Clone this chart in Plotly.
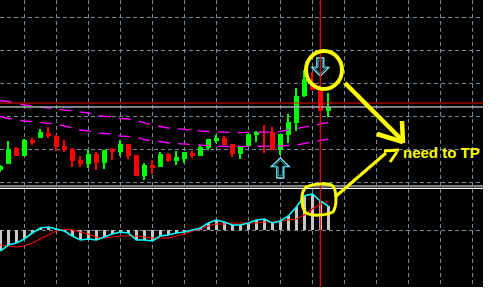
import plotly.graph_objects as go

# ---------------- data ----------------
bar_index = list(range(42))
opens = [1.3030, 1.3036, 1.3052, 1.3044, 1.3060, 1.3062, 1.3067, 1.3064, 1.3054, 1.3051,
         1.3040, 1.3036, 1.3046, 1.3037, 1.3051, 1.3048, 1.3056, 1.3045, 1.3024, 1.3035,
         1.3033, 1.3046, 1.3039, 1.3041, 1.3047, 1.3044, 1.3052, 1.3059, 1.3062, 1.3056,
         1.3046, 1.3054, 1.3065, 1.3068, 1.3068, 1.3050, 1.3065, 1.3077, 1.3104, 1.3117,
         1.3110, 1.3089]
highs = [1.3035, 1.3059, 1.3053, 1.3061, 1.3062, 1.3071, 1.3073, 1.3065, 1.3060, 1.3052,
         1.3044, 1.3050, 1.3048, 1.3050, 1.3052, 1.3060, 1.3056, 1.3045, 1.3037, 1.3040,
         1.3048, 1.3047, 1.3049, 1.3048, 1.3049, 1.3055, 1.3061, 1.3065, 1.3064, 1.3056,
         1.3054, 1.3066, 1.3069, 1.3075, 1.3073, 1.3066, 1.3086, 1.3112, 1.3130, 1.3128,
         1.3115, 1.3107]
lows = [1.3028, 1.3036, 1.3044, 1.3044, 1.3055, 1.3062, 1.3062, 1.3049, 1.3048, 1.3033,
        1.3033, 1.3032, 1.3030, 1.3031, 1.3040, 1.3044, 1.3041, 1.3024, 1.3020, 1.3026,
        1.3033, 1.3038, 1.3035, 1.3037, 1.3042, 1.3044, 1.3050, 1.3057, 1.3055, 1.3043,
        1.3041, 1.3054, 1.3058, 1.3047, 1.3050, 1.3045, 1.3057, 1.3069, 1.3103, 1.3110,
        1.3089, 1.3083]
closes = [1.3034, 1.3051, 1.3044, 1.3060, 1.3057, 1.3068, 1.3064, 1.3053, 1.3050, 1.3039,
          1.3036, 1.3046, 1.3037, 1.3050, 1.3048, 1.3056, 1.3044, 1.3024, 1.3035, 1.3032,
          1.3046, 1.3039, 1.3043, 1.3048, 1.3044, 1.3053, 1.3061, 1.3062, 1.3055, 1.3046,
          1.3054, 1.3066, 1.3068, 1.3067, 1.3050, 1.3066, 1.3078, 1.3104, 1.3121, 1.3110,
          1.3089, 1.3093]

ma_upper = [1.30995, 1.30985, 1.30965, 1.3095, 1.3094, 1.3093, 1.3092, 1.3091, 1.3090, 1.3089,
            1.3088, 1.3087, 1.30845, 1.3084, 1.3083, 1.30815, 1.3081, 1.30795, 1.3077, 1.3075,
            1.30735, 1.3072, 1.30715, 1.30705, 1.30695, 1.3069, 1.30685, 1.3068, 1.30675, 1.30675,
            1.30675, 1.30675, 1.30675, 1.3068, 1.3068, 1.30685, 1.3070, 1.30715, 1.3073, 1.3075,
            1.3076, 1.30775]
ma_lower = [1.30835, 1.30815, 1.30805, 1.3079, 1.30785, 1.30775, 1.30765, 1.3076, 1.3074, 1.3072,
            1.3070, 1.3069, 1.3067, 1.30665, 1.3066, 1.3064, 1.30635, 1.3063, 1.30605, 1.3059,
            1.30585, 1.3057, 1.30565, 1.3056, 1.3055, 1.30545, 1.3054, 1.3054, 1.30535, 1.30535,
            1.30535, 1.30535, 1.30535, 1.30537, 1.30537, 1.3054, 1.30545, 1.3055, 1.30565, 1.3058,
            1.3059, 1.3061]

macd_main = [-0.00021, -0.00015, -0.00013, -0.00009, -0.00003, 0.00002, 0.00003, 0.00001, -0.00001, -0.00006,
             -0.00010, -0.00009, -0.00010, -0.00007, -0.00004, -0.00002, -0.00003, -0.00010, -0.00010, -0.00011,
             -0.00006, -0.00005, -0.00003, -0.00002, 0.00000, 0.00002, 0.00007, 0.00010, 0.00008, 0.00005,
             0.00005, 0.00007, 0.00010, 0.00011, 0.00007, 0.00009, 0.00014, 0.00023, 0.00034, 0.00036,
             0.00029, 0.00024]
macd_signal = [-0.00015, -0.00016, -0.00017, -0.00016, -0.00013, -0.00009, -0.00005, -0.00001, 0.00001, 0.00000,
               -0.00002, -0.00004, -0.00007, -0.00008, -0.00007, -0.00006, -0.00006, -0.00006, -0.00007, -0.00008,
               -0.00008, -0.00008, -0.00006, -0.00004, -0.00001, 0.00001, 0.00004, 0.00006, 0.00006, 0.00007,
               0.00007, 0.00007, 0.00007, 0.00008, 0.00008, 0.00009, 0.00010, 0.00011, 0.00015, 0.00021,
               0.00026, 0.00029]

level_red = 1.3097
level_gray = 1.3093
current_bar = 40
signal_up_bar, signal_up_price = 35, 1.3032
signal_down_bar, signal_down_price = 40, 1.3133
grid_bars = [3, 7, 11, 15, 19, 23, 27, 31, 35, 39, 43, 47, 51, 55, 59]
grid_prices = [1.3018, 1.3051, 1.3084, 1.3117, 1.3150, 1.3183]
note_text = "need to TP"

# ---------------- figure ----------------
W, H = 483.0, 287.0
BAR_PX = 8.0        # pixels per bar
PRICE_PX = 0.0001   # price per pixel


def P(x, y):
    return x / W, 1 - y / H


def path(cmds):
    out = []
    for c in cmds:
        if isinstance(c, str):
            out.append(c)
        else:
            px, py = P(*c)
            out.append(f"{px:.5f},{py:.5f}")
    return " ".join(out)


def arrow_path(bar, price, half_w, half_h, shaft, head, direction):
    # outline of a block arrow around a data point; offsets in pixels
    s = -1 if direction == "up" else 1
    pts = [(0, s * half_h), (half_w, s * (half_h - head)), (shaft, s * (half_h - head)),
           (shaft, -s * half_h), (-shaft, -s * half_h), (-shaft, s * (half_h - head)),
           (-half_w, s * (half_h - head))]
    cmds = []
    for k, (dx, dy) in enumerate(pts):
        cmds.append(("M" if k == 0 else "L") + f"{bar + dx / BAR_PX:.4f},{price - dy * PRICE_PX:.6f}")
    return " ".join(cmds) + " Z"


UP, DN = "#00FF00", "#FF0000"
colors = [UP if c >= o else DN for o, c in zip(opens, closes)]
body_base = [min(o, c) for o, c in zip(opens, closes)]
body_h = [max(abs(c - o), 0.0001) for o, c in zip(opens, closes)]
wick_h = [h - l for h, l in zip(highs, lows)]

fig = go.Figure()
fig.add_trace(go.Bar(x=bar_index, y=wick_h, base=lows, width=0.14,
                     marker=dict(color=colors, line=dict(width=0)), xaxis="x", yaxis="y"))
fig.add_trace(go.Bar(x=bar_index, y=body_h, base=body_base, width=0.625,
                     marker=dict(color=colors, line=dict(width=0)), xaxis="x", yaxis="y"))
for ma in (ma_upper, ma_lower):
    fig.add_trace(go.Scatter(x=bar_index, y=ma, mode="lines",
                             line=dict(color="#FF00FF", width=1.3, dash="12px,8px"),
                             xaxis="x", yaxis="y"))

fig.add_trace(go.Bar(x=bar_index, y=macd_main, width=0.375,
                     marker=dict(color="#C8C8C8", line=dict(width=0)), xaxis="x2", yaxis="y2"))
fig.add_trace(go.Scatter(x=bar_index, y=macd_signal, mode="lines",
                         line=dict(color="#FF0000", width=1.2), xaxis="x2", yaxis="y2"))
fig.add_trace(go.Scatter(x=bar_index, y=macd_main, mode="lines",
                         line=dict(color="#00FFFF", width=1.6), xaxis="x2", yaxis="y2"))

GRID = dict(showgrid=True, gridcolor="#778899", gridwidth=1, griddash="4px,3px",
            showticklabels=False, zeroline=False, showline=False, ticks="")
xr = [-0.04, -0.04 + W / BAR_PX]
top_split = 1 - 185 / H
bot_split = 1 - 189 / H

fig.update_layout(
    width=495, height=296,
    margin=dict(l=0, r=12, t=0, b=9, pad=0),
    paper_bgcolor="white", plot_bgcolor="black",
    showlegend=False, barmode="overlay", bargap=0,
    xaxis=dict(domain=[0, 1], range=xr, tickvals=grid_bars, anchor="y", **GRID),
    xaxis2=dict(domain=[0, 1], range=xr, tickvals=grid_bars, anchor="y2", matches="x", **GRID),
    yaxis=dict(domain=[top_split, 1], range=[1.3015, 1.3200], tickvals=grid_prices, anchor="x", **GRID),
    yaxis2=dict(domain=[0, bot_split], range=[-0.00057, 0.00041], tickvals=[0], anchor="x2", **GRID),
)

shapes = [
    dict(type="rect", xref="paper", yref="paper", x0=0, x1=1, y0=0, y1=1,
         fillcolor="black", line=dict(width=0), layer="below"),
    dict(type="line", xref="paper", yref="y", x0=0, x1=1, y0=level_red, y1=level_red,
         line=dict(color="#FF0000", width=1)),
    dict(type="line", xref="paper", yref="y", x0=0, x1=1, y0=level_gray, y1=level_gray,
         line=dict(color="#A4ACB4", width=1.5)),
    dict(type="line", xref="paper", yref="paper", x0=0, x1=1, y0=P(0, 186)[1], y1=P(0, 186)[1],
         line=dict(color="white", width=1.2)),
    dict(type="line", xref="paper", yref="paper", x0=0, x1=1, y0=P(0, 188.3)[1], y1=P(0, 188.3)[1],
         line=dict(color="white", width=1.2)),
]

# signal arrows (outer light cyan outline, inner teal outline)
for (b, p, d, hw, hh) in [(signal_up_bar, signal_up_price, "up", 9, 10),
                          (signal_down_bar, signal_down_price, "down", 8.5, 9)]:
    shapes.append(dict(type="path", xref="x", yref="y",
                       path=arrow_path(b, p, hw, hh, 3.5, 8.5, d),
                       fillcolor="black", line=dict(color="#7FE8F0", width=1.3)))
    shapes.append(dict(type="path", xref="x", yref="y",
                       path=arrow_path(b, p, hw - 2.5, hh - 2.2, 2.0, 6.5, d),
                       line=dict(color="#2A9FB0", width=1)))

shapes.append(dict(type="line", xref="x", yref="paper", x0=current_bar, x1=current_bar, y0=0, y1=1,
                   line=dict(color="#FF0000", width=1.2)))

YEL = "#FFFF00"
cx0, cy0 = P(306, 51)
cx1, cy1 = P(342, 89)
shapes.append(dict(type="circle", xref="paper", yref="paper", x0=cx0, x1=cx1, y0=cy1, y1=cy0,
                   line=dict(color=YEL, width=4)))
loop = path(["M", (306, 187), "C", (315, 183), (328, 183), (333, 186),
             "C", (337, 192), (337, 206), (333, 212),
             "C", (325, 216), (312, 216), (306, 213),
             "C", (301, 207), (300, 193), (306, 187), "Z"])
shapes.append(dict(type="path", xref="paper", yref="paper", path=loop, line=dict(color=YEL, width=3)))
for seg, w in [
    ([(335, 197), (386, 153)], 3),
    ([(384, 151), (399, 150)], 3),
    ([(390, 162), (397, 152)], 3),
    ([(345, 83), (403, 141)], 4.5),
    ([(402, 121), (403, 143)], 4.5),
    ([(377, 134), (403, 142)], 4.5),
]:
    shapes.append(dict(type="path", xref="paper", yref="paper",
                       path=path(["M", seg[0], "L", seg[1]]), line=dict(color=YEL, width=w)))

fig.update_layout(shapes=shapes)

tx, ty = P(401, 152)
fig.add_annotation(x=tx, y=ty, xref="paper", yref="paper", text="<b>" + note_text + "</b>",
                   showarrow=False, xanchor="left", yanchor="middle",
                   font=dict(family="Liberation Sans", size=15, color=YEL))

fig.write_html("out.html")
